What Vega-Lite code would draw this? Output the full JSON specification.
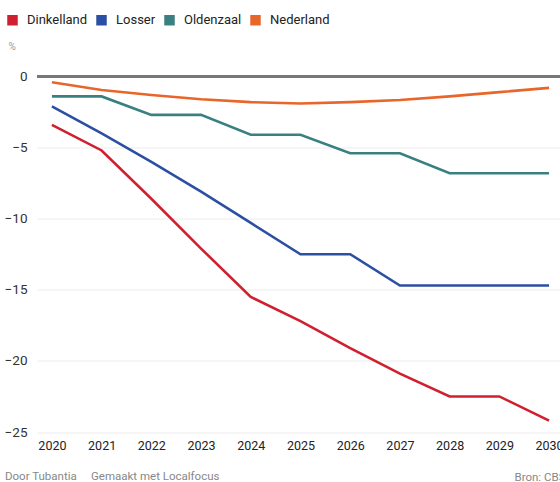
{
  "$schema": "https://vega.github.io/schema/vega-lite/v6.json",
  "width": 523,
  "height": 355.5,
  "autosize": {"type": "none"},
  "padding": {"left": 37, "top": 76.5, "right": 0, "bottom": 50},
  "background": "#ffffff",
  "config": {
    "font": "Roboto",
    "view": {"stroke": null}
  },
  "title": {
    "text": "Door Tubantia\u00a0\u00a0\u00a0\u00a0 Gemaakt met Localfocus",
    "orient": "bottom",
    "anchor": "start",
    "frame": "group",
    "dx": -32,
    "offset": -11.5,
    "fontSize": 11.5,
    "fontWeight": "normal",
    "color": "#888888",
    "font": "Roboto"
  },
  "data": {
    "values": [
      {"jaar": 2020, "gemeente": "Dinkelland", "waarde": -3.4},
      {"jaar": 2021, "gemeente": "Dinkelland", "waarde": -5.2},
      {"jaar": 2022, "gemeente": "Dinkelland", "waarde": -8.6},
      {"jaar": 2023, "gemeente": "Dinkelland", "waarde": -12.1},
      {"jaar": 2024, "gemeente": "Dinkelland", "waarde": -15.5},
      {"jaar": 2025, "gemeente": "Dinkelland", "waarde": -17.2},
      {"jaar": 2026, "gemeente": "Dinkelland", "waarde": -19.1},
      {"jaar": 2027, "gemeente": "Dinkelland", "waarde": -20.9},
      {"jaar": 2028, "gemeente": "Dinkelland", "waarde": -22.5},
      {"jaar": 2029, "gemeente": "Dinkelland", "waarde": -22.5},
      {"jaar": 2030, "gemeente": "Dinkelland", "waarde": -24.2},
      {"jaar": 2020, "gemeente": "Losser", "waarde": -2.1},
      {"jaar": 2021, "gemeente": "Losser", "waarde": -4.0},
      {"jaar": 2022, "gemeente": "Losser", "waarde": -6.0},
      {"jaar": 2023, "gemeente": "Losser", "waarde": -8.1},
      {"jaar": 2024, "gemeente": "Losser", "waarde": -10.3},
      {"jaar": 2025, "gemeente": "Losser", "waarde": -12.5},
      {"jaar": 2026, "gemeente": "Losser", "waarde": -12.5},
      {"jaar": 2027, "gemeente": "Losser", "waarde": -14.7},
      {"jaar": 2028, "gemeente": "Losser", "waarde": -14.7},
      {"jaar": 2029, "gemeente": "Losser", "waarde": -14.7},
      {"jaar": 2030, "gemeente": "Losser", "waarde": -14.7},
      {"jaar": 2020, "gemeente": "Oldenzaal", "waarde": -1.4},
      {"jaar": 2021, "gemeente": "Oldenzaal", "waarde": -1.4},
      {"jaar": 2022, "gemeente": "Oldenzaal", "waarde": -2.7},
      {"jaar": 2023, "gemeente": "Oldenzaal", "waarde": -2.7},
      {"jaar": 2024, "gemeente": "Oldenzaal", "waarde": -4.1},
      {"jaar": 2025, "gemeente": "Oldenzaal", "waarde": -4.1},
      {"jaar": 2026, "gemeente": "Oldenzaal", "waarde": -5.4},
      {"jaar": 2027, "gemeente": "Oldenzaal", "waarde": -5.4},
      {"jaar": 2028, "gemeente": "Oldenzaal", "waarde": -6.8},
      {"jaar": 2029, "gemeente": "Oldenzaal", "waarde": -6.8},
      {"jaar": 2030, "gemeente": "Oldenzaal", "waarde": -6.8},
      {"jaar": 2020, "gemeente": "Nederland", "waarde": -0.4},
      {"jaar": 2021, "gemeente": "Nederland", "waarde": -0.95},
      {"jaar": 2022, "gemeente": "Nederland", "waarde": -1.3},
      {"jaar": 2023, "gemeente": "Nederland", "waarde": -1.6},
      {"jaar": 2024, "gemeente": "Nederland", "waarde": -1.8},
      {"jaar": 2025, "gemeente": "Nederland", "waarde": -1.9},
      {"jaar": 2026, "gemeente": "Nederland", "waarde": -1.8},
      {"jaar": 2027, "gemeente": "Nederland", "waarde": -1.65},
      {"jaar": 2028, "gemeente": "Nederland", "waarde": -1.4},
      {"jaar": 2029, "gemeente": "Nederland", "waarde": -1.1},
      {"jaar": 2030, "gemeente": "Nederland", "waarde": -0.8}
    ]
  },
  "layer": [
    {
      "mark": {"type": "rule", "color": "#777777", "strokeWidth": 1.3},
      "encoding": {
        "y": {"datum": 0, "type": "quantitative", "scale": {"domain": [-25, 0], "nice": false}}
      }
    },
    {
      "mark": {"type": "line", "strokeWidth": 2.6, "clip": true},
      "encoding": {
        "x": {
          "field": "jaar",
          "type": "quantitative",
          "scale": {"domain": [2019.7, 2030.22], "nice": false, "zero": false},
          "axis": {
            "values": [2020, 2021, 2022, 2023, 2024, 2025, 2026, 2027, 2028, 2029, 2030],
            "format": "d",
            "grid": false,
            "domain": false,
            "ticks": false,
            "labelPadding": 7,
            "labelFontSize": 12.5,
            "labelColor": "#222222",
            "labelFont": "Roboto",
            "title": "Bron: CBS",
            "titleAnchor": "end",
            "titleAlign": "right",
            "titleBaseline": "middle",
            "titleX": 528,
            "titleY": 45,
            "titleFontSize": 11.5,
            "titleFontWeight": "normal",
            "titleColor": "#888888",
            "titleFont": "Roboto"
          }
        },
        "y": {
          "field": "waarde",
          "type": "quantitative",
          "scale": {"domain": [-25, 0], "nice": false},
          "axis": {
            "values": [0, -5, -10, -15, -20, -25],
            "grid": true,
            "gridColor": "#ececec",
            "gridWidth": 1,
            "domain": false,
            "ticks": false,
            "labelPadding": 10,
            "labelFontSize": 13.5,
            "labelColor": "#333333",
            "labelFont": "Roboto",
            "title": "%",
            "titleAngle": 0,
            "titleAlign": "left",
            "titleBaseline": "middle",
            "titleX": -29,
            "titleY": -30.5,
            "titleFontSize": 10,
            "titleFontWeight": "normal",
            "titleColor": "#999999",
            "titleFont": "Roboto"
          }
        },
        "color": {
          "field": "gemeente",
          "type": "nominal",
          "sort": ["Dinkelland", "Losser", "Oldenzaal", "Nederland"],
          "scale": {
            "domain": ["Dinkelland", "Losser", "Oldenzaal", "Nederland"],
            "range": ["#d0202f", "#2b4fa3", "#3a8080", "#e8662a"]
          },
          "legend": {
            "title": null,
            "orient": "none",
            "direction": "horizontal",
            "legendX": -31,
            "legendY": -63,
            "symbolType": "square",
            "symbolSize": 110,
            "symbolStrokeWidth": 0,
            "symbolOpacity": 1,
            "labelFontSize": 13,
            "labelColor": "#222222",
            "labelFont": "Roboto",
            "labelOffset": 8,
            "columnPadding": 7,
            "encode": {
              "symbols": {
                "update": {
                  "fill": {"scale": "color", "field": "value"},
                  "strokeWidth": {"value": 0},
                  "opacity": {"value": 1}
                }
              }
            }
          }
        }
      }
    }
  ]
}
